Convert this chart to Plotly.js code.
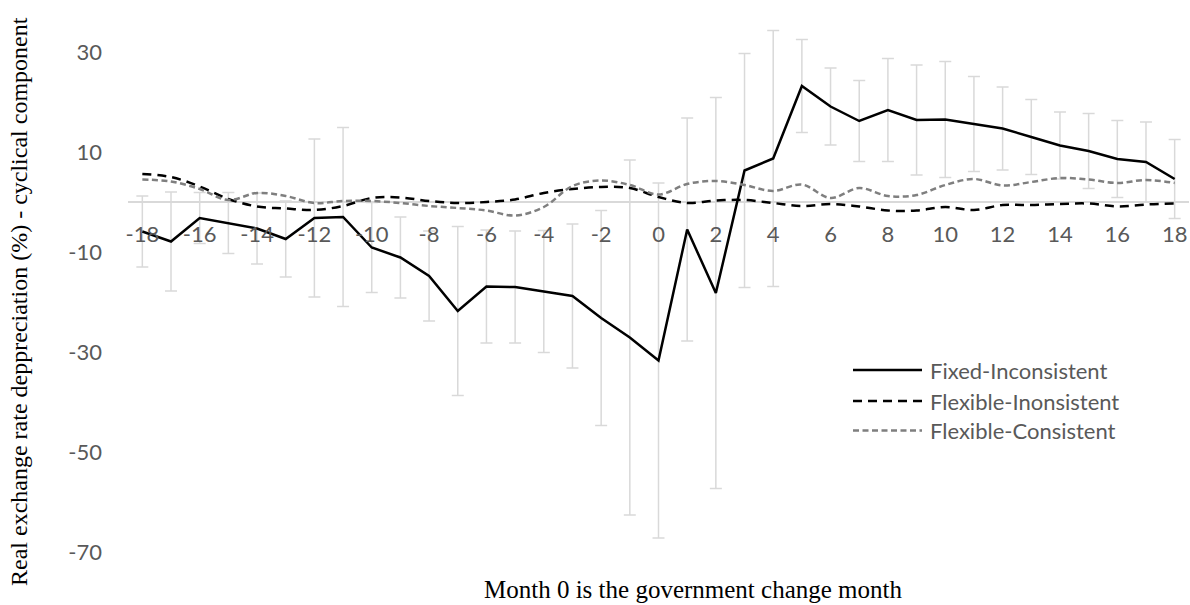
<!DOCTYPE html>
<html>
<head>
<meta charset="utf-8">
<script src="https://cdn.plot.ly/plotly-3.0.1.min.js"></script>
<style>html,body{margin:0;padding:0;background:#fff;}#chart{width:1190px;height:605px;}</style>
</head>
<body>
<div id="chart"></div>
<script>
// ---- data ----
var months = [-18,-17,-16,-15,-14,-13,-12,-11,-10,-9,-8,-7,-6,-5,-4,-3,-2,-1,0,1,2,3,4,5,6,7,8,9,10,11,12,13,14,15,16,17,18];
var fixedInconsistent = [-5.9,-7.9,-3.2,-4.2,-5.3,-7.4,-3.2,-3.0,-9.1,-11.1,-14.8,-21.8,-16.9,-17.0,-17.9,-18.8,-23.2,-27.1,-31.7,-5.5,-18.2,6.3,8.7,23.2,19.1,16.2,18.4,16.4,16.5,15.6,14.7,13.0,11.3,10.2,8.6,8.0,4.6];
var fixedInconsistentErr = [7.1,9.9,5.1,6.1,7.1,7.6,15.8,17.9,9.0,8.1,9.0,16.9,11.3,11.2,12.2,14.4,21.5,35.5,35.5,22.3,39.1,23.4,25.6,9.3,7.7,8.1,10.3,11.0,11.6,9.5,8.3,7.5,6.7,7.5,7.7,8.0,7.9];
var flexibleInconsistent = [5.6,5.0,3.1,0.6,-0.9,-1.3,-1.6,-0.8,0.8,0.9,0.2,-0.2,0.0,0.5,1.8,2.6,3.0,2.8,1.0,-0.2,0.3,0.4,-0.2,-0.8,-0.4,-0.9,-1.7,-1.7,-1.0,-1.6,-0.6,-0.6,-0.4,-0.3,-0.9,-0.5,-0.3];
var flexibleConsistent = [4.5,4.1,2.6,0.4,1.8,1.2,-0.2,0.2,0.2,-0.2,-0.8,-1.2,-1.7,-2.7,-1.0,3.2,4.3,3.4,1.5,3.6,4.2,3.4,2.2,3.5,0.8,2.8,1.2,1.4,3.4,4.6,3.3,4.0,4.8,4.5,3.8,4.4,3.8];
var seriesNames = ["Fixed-Inconsistent","Flexible-Inonsistent","Flexible-Consistent"];
var xTickVals = [-18,-16,-14,-12,-10,-8,-6,-4,-2,0,2,4,6,8,10,12,14,16,18];
var xTickText = ["-18","-16","-14","-12","-10","-8","-6","-4","-2","0","2","4","6","8","10","12","14","16","18"];
var yTickVals = [30,10,-10,-30,-50,-70];
var yTickText = ["30","10","-10","-30","-50","-70"];
var xTitle = "Month 0 is the government change month";
var yTitle = "Real exchange rate deppreciation (%) - cyclical component";

// ---- styles ----
var seriesColors = ["#000000","#000000","#7f7f7f"];
var seriesDash = ["solid","9px,6px","6px,3.5px"];
var seriesWidth = [2.5,2.5,2.5];
var seriesShape = ["linear","spline","spline"];
var seriesData = [fixedInconsistent, flexibleInconsistent, flexibleConsistent];

var tickFont = {family:"Lato, 'Open Sans', sans-serif", size:22, color:"#595959"};

var traces = [];
// error bars (drawn first so they stay underneath the lines)
traces.push({
  x: months, y: fixedInconsistent, type:"scatter", mode:"markers",
  marker:{size:1, opacity:0}, showlegend:false, hoverinfo:"skip",
  error_y:{type:"data", array:fixedInconsistentErr, visible:true, symmetric:true,
           color:"#d9d9d9", thickness:1.5, width:6}
});
for (var i=0;i<3;i++){
  traces.push({
    x: months, y: seriesData[i], type:"scatter", mode:"lines", name:seriesNames[i],
    line:{color:seriesColors[i], width:seriesWidth[i], dash:seriesDash[i], shape:seriesShape[i], smoothing:1},
    showlegend:false
  });
}

var L = 128, R = 1, T = 2, B = 53, W = 1190, H = 605;
var pw = W - L - R, ph = H - T - B;
function px2x(p){ return (p - L)/pw; }
function px2y(p){ return (H - B - p)/ph; }

var yRange = [-70, 40];
var shapes = [], annotations = [];
// manual legend
var legY = [370, 401, 430.5];
for (var k=0;k<3;k++){
  shapes.push({type:"line", xref:"paper", yref:"paper",
    x0:px2x(853), x1:px2x(922), y0:px2y(legY[k]), y1:px2y(legY[k]),
    line:{color:seriesColors[k], width:seriesWidth[k], dash:seriesDash[k]}});
  annotations.push({xref:"paper", yref:"paper", x:px2x(928), y:px2y(legY[k]),
    xanchor:"left", yanchor:"middle", text:seriesNames[k], showarrow:false,
    font:{family:"Lato, 'Open Sans', sans-serif", size:22, color:"#595959"}});
}
annotations.push({xref:"paper", yref:"paper", x:px2x(693), y:px2y(589), xanchor:"center", yanchor:"middle",
  text:xTitle, showarrow:false, font:{family:"'Liberation Serif', 'Times New Roman', serif", size:25, color:"#000"}});
annotations.push({xref:"paper", yref:"paper", x:px2x(19), y:px2y(302), xanchor:"center", yanchor:"middle",
  text:yTitle, textangle:-90, showarrow:false, font:{family:"'Liberation Serif', 'Times New Roman', serif", size:24, color:"#000"}});

var layout = {
  width:W, height:H, margin:{l:L, r:R, t:T, b:B, pad:0},
  paper_bgcolor:"#fff", plot_bgcolor:"#fff", showlegend:false,
  xaxis:{range:[-18.5,18.5], tickmode:"array", tickvals:xTickVals, ticktext:xTickText,
    showgrid:false, zeroline:false, showline:false, ticks:"", anchor:"free",
    position:(0 - yRange[0])/(yRange[1]-yRange[0]), tickfont:tickFont, ticklabelstandoff:17, automargin:false},
  yaxis:{range:yRange, tickmode:"array", tickvals:yTickVals, ticktext:yTickText,
    showgrid:false, zeroline:true, zerolinecolor:"#d9d9d9", zerolinewidth:1.5, showline:false, ticks:"",
    tickfont:tickFont, ticklabelstandoff:25, automargin:false},
  shapes:shapes, annotations:annotations
};
Plotly.newPlot("chart", traces, layout, {displayModeBar:false, staticPlot:true});
</script>
</body>
</html>
